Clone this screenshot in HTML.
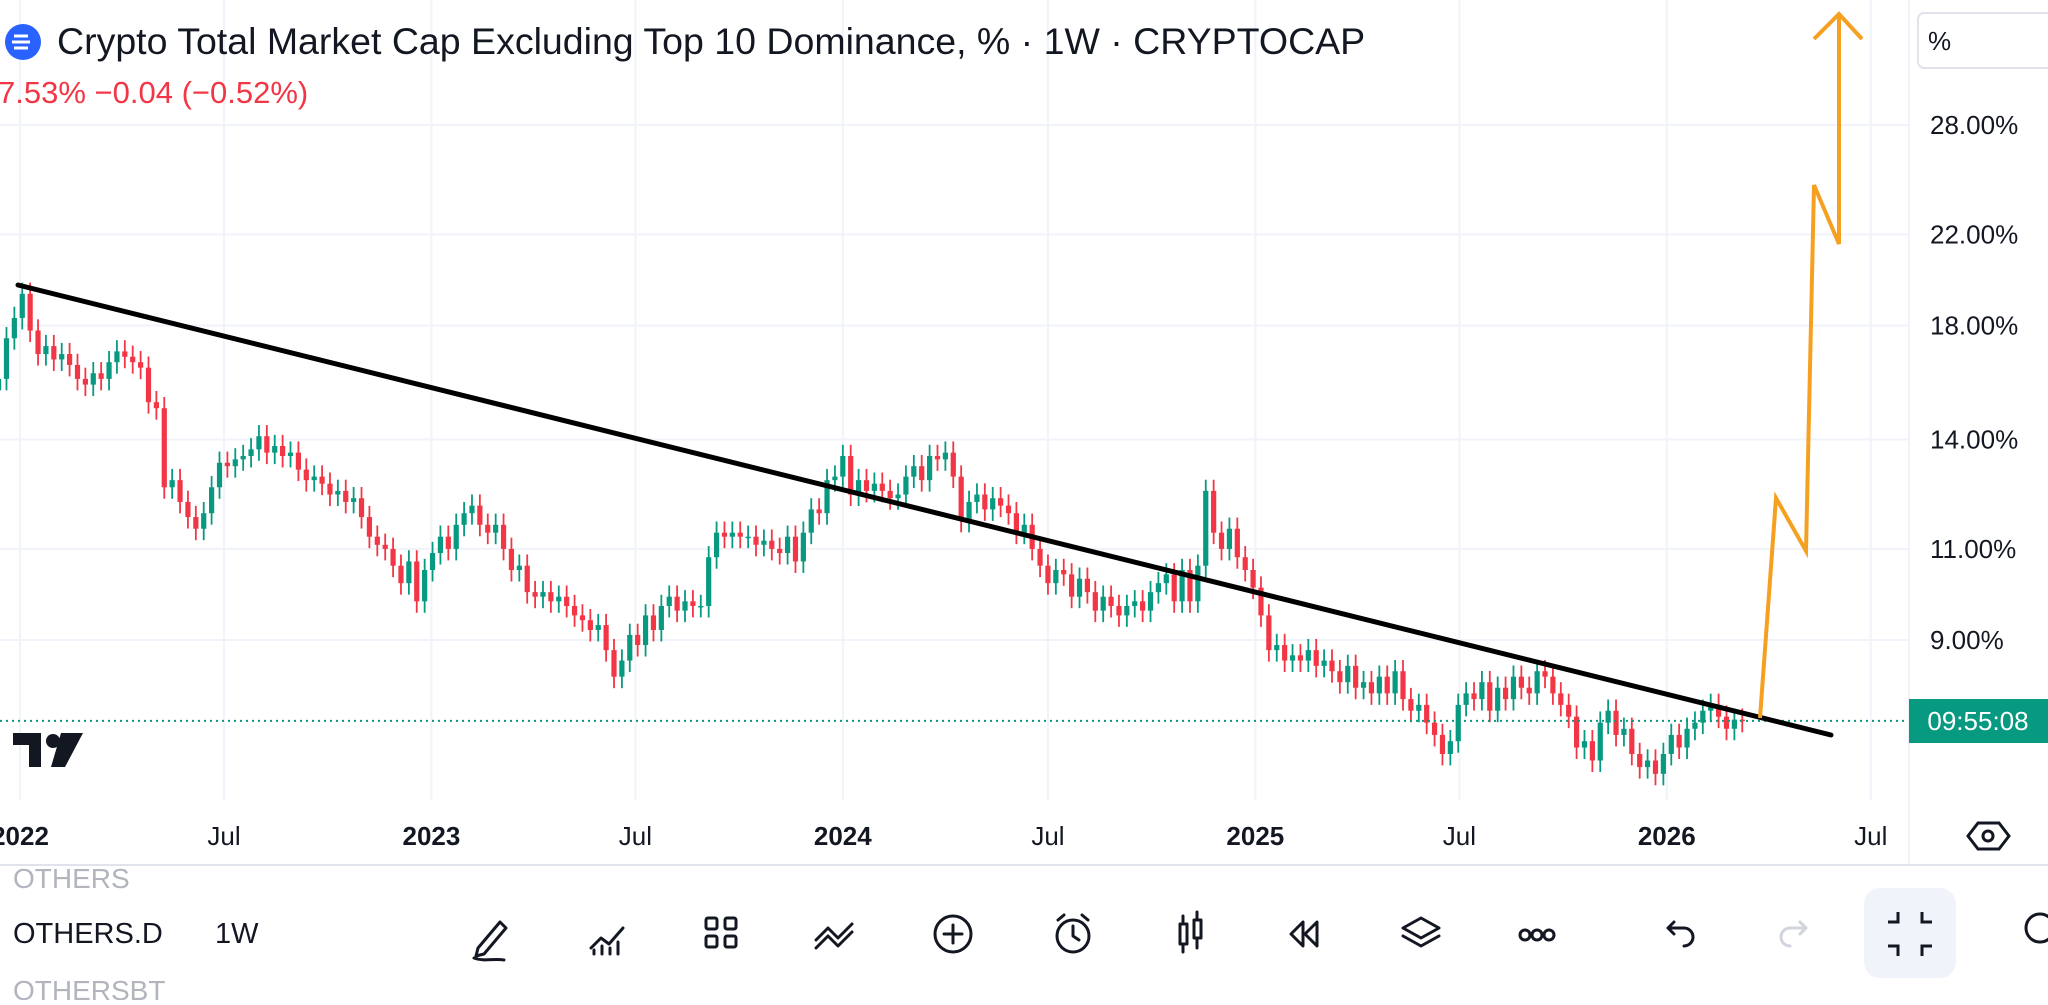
<!DOCTYPE html>
<html><head><meta charset="utf-8"><style>
html,body{margin:0;padding:0;background:#fff;}
body{width:2048px;height:1000px;overflow:hidden;font-family:"Liberation Sans",sans-serif;}
svg text{font-family:"Liberation Sans",sans-serif;}
</style></head><body>
<svg id="chart" width="2048" height="1000" viewBox="0 0 2048 1000" xmlns="http://www.w3.org/2000/svg">
<g id="grid"></g>
<g id="candles"></g>
<line id="curline" x1="0" x2="1909" stroke="#089981" stroke-width="2" stroke-dasharray="2,4"/>
<line x1="18" y1="285" x2="1831" y2="735" stroke="#000" stroke-width="5" stroke-linecap="round"/>
<polyline points="1760,718 1776,498 1806,551 1814,185 1839,244 1839,16" fill="none" stroke="#f5a020" stroke-width="4" stroke-linejoin="miter"/>
<polyline points="1814,39 1839,14 1862,39" fill="none" stroke="#f5a020" stroke-width="4"/>
<line x1="1909" y1="0" x2="1909" y2="865" stroke="#f0f3fa" stroke-width="2"/>
<g id="yaxis"></g>
<g id="xaxis"></g>
<rect x="1909" y="699" width="139" height="44" fill="#089981"/>
<text x="1978" y="730" fill="#fff" font-size="26" text-anchor="middle">09:55:08</text>
<rect x="1918" y="13" width="140" height="55" rx="6" fill="#fff" stroke="#e0e3eb" stroke-width="2"/>
<text x="1928" y="50" font-size="26" fill="#131722">%</text>
<circle cx="23" cy="42" r="18" fill="#2962ff"/>
<path d="M14 36h14M12 42h18M14 48h14" stroke="#fff" stroke-width="3" fill="none"/>
<text x="57" y="54" font-size="37.5" fill="#131722">Crypto Total Market Cap Excluding Top 10 Dominance, % · 1W · CRYPTOCAP</text>
<text x="-2" y="103" font-size="31" fill="#f23645">7.53%  −0.04 (−0.52%)</text>
<g><path d="M13 733h28v34h-12v-22h-16z" fill="#131722"/><circle cx="53" cy="741" r="7" fill="#131722"/><path d="M61 733h22l-18 34h-14z" fill="#131722"/></g>
<g><polygon points="1978,823 1999,823 2009,836 1999,849 1978,849 1968,836" fill="none" stroke="#131722" stroke-width="3"/><circle cx="1988" cy="836" r="5" fill="none" stroke="#131722" stroke-width="3"/></g>
<line x1="0" y1="865" x2="2048" y2="865" stroke="#e0e3eb" stroke-width="2"/>
<text x="13" y="888" font-size="28" fill="#b2b5be">OTHERS</text>
<text x="13" y="943" font-size="29" fill="#131722">OTHERS.D</text>
<text x="215" y="943" font-size="29" fill="#131722">1W</text>
<text x="13" y="1000" font-size="28" fill="#b2b5be">OTHERSBT</text>
<g fill="none" stroke="#131722" stroke-width="3" stroke-linecap="round" stroke-linejoin="round">
<g><path d="M478 948l22-26 6 6-22 26-8 2zM474 958c10 4 20 0 30 2"/></g>
<g><path d="M591 948l10-10 8 6 14-16M594 954v-4M602 954v-8M610 954v-6M618 954v-12"/></g>
<g><rect x="706" y="918" width="11" height="11" rx="2"/><rect x="725" y="918" width="11" height="11" rx="2"/><rect x="706" y="936" width="11" height="11" rx="2"/><rect x="725" y="936" width="11" height="11" rx="2"/></g>
<g><path d="M816 940l12-12 10 10 14-14M816 948l12-12 10 10 14-14"/></g>
<g><circle cx="953" cy="934" r="18"/><path d="M944 934h18M953 925v18"/></g>
<g><circle cx="1073" cy="936" r="16"/><path d="M1073 926v10l6 4M1058 920l6-5M1088 920l-6-5"/></g>
<g><rect x="1180" y="924" width="7" height="20"/><rect x="1194" y="920" width="7" height="18"/><path d="M1183 916v8M1183 944v8M1197 912v8M1197 938v10"/></g>
<g><path d="M1303 922l-12 12 12 12zM1317 922l-12 12 12 12z"/></g>
<g><path d="M1421 918l18 10-18 10-18-10zM1403 936l18 10 18-10"/></g>
<g><circle cx="1525" cy="935" r="5"/><circle cx="1537" cy="935" r="5"/><circle cx="1549" cy="935" r="5"/></g>
<g><path d="M1668 928h16a9 9 0 0 1 0 18M1674 922l-6 6 6 6"/></g>
<g stroke="#d1d4dc"><path d="M1806 928h-16a9 9 0 0 0 0 18M1800 922l6 6-6 6"/></g>
</g>
<rect x="1864" y="888" width="92" height="90" rx="16" fill="#f0f3fa"/>
<g fill="none" stroke="#131722" stroke-width="3"><path d="M1898 912v10h-10M1922 912v10h10M1898 956v-10h-10M1922 956v-10h10"/></g>
<g fill="none" stroke="#131722" stroke-width="3"><circle cx="2040" cy="928" r="14"/></g>
</svg>
<script>
const yTicks=[28,22,18,14,11,9];
const yTickLabels=["28.00%","22.00%","18.00%","14.00%","11.00%","9.00%"];
const xTickDates=["2022-01-01","2022-07-01","2023-01-01","2023-07-01","2024-01-01","2024-07-01","2025-01-01","2025-07-01","2026-01-01","2026-07-01"];
const xTickLabels=["2022","Jul","2023","Jul","2024","Jul","2025","Jul","2026","Jul"];
const startDate="2021-12-13";
const closes=[16.0,17.5,18.3,
19.3,17.8,16.9,17.2,16.7, 16.9,16.5,16.0,15.8, 16.2,16.0,16.6,17.0, 16.8,16.6,16.4,15.2, 15.0,12.6,12.8,12.2,11.8, 11.5,11.9,12.6,13.3, 13.2,13.4,13.5,13.7, 14.1,13.6,13.8,13.5,13.6, 13.1,12.8,12.9,12.7, 12.4,12.5,12.2,12.3,11.8, 11.3,11.1,11.0,10.6, 10.2,10.7,9.8,10.5,
10.9,11.3,11.0,11.6,11.9, 12.1,11.6,11.4,11.6, 11.0,10.5,10.6,10.0, 9.9,10.0,9.8,9.9, 9.7,9.5,9.4,9.2,9.3, 8.8,8.3,8.6,9.1, 8.9,9.5,9.2,9.7,9.9, 9.6,9.8,9.7,9.7, 10.8,11.4,11.3,11.4, 11.3,11.3,11.1,11.2,11.0, 10.9,11.3,10.7,11.4, 12.0,11.9,12.8,12.9,
13.5,12.4,12.8,12.5,12.7, 12.5,12.3,12.4,12.9, 13.2,12.8,13.5,13.4, 13.6,12.9,11.7,12.2,12.4, 12.0,12.3,12.1,11.9, 11.4,11.6,11.0,10.6, 10.2,10.5,10.4,9.9,10.3, 10.0,9.6,9.9,9.7, 9.5,9.7,9.8,9.6,10.0, 10.2,10.4,9.8,10.5, 9.8,10.6,12.5,11.4, 11.0,11.5,10.8,10.5,10.1,
9.5,8.8,8.9,8.6, 8.7,8.6,8.8,8.5, 8.6,8.4,8.2,8.5,8.1, 8.2,8.0,8.3,8.0, 8.4,7.9,7.7,7.8, 7.5,7.3,7.0,7.2,7.8, 8.0,7.9,8.2,7.7, 8.1,7.9,8.3,8.1, 8.0,8.4,8.3,8.0,7.8, 7.6,7.1,7.2,6.9, 7.5,7.7,7.3,7.4, 7.0,6.8,6.9,6.7,7.0,
7.3,7.1,7.4,7.5, 7.7,7.8,7.6,7.4, 7.55,7.53];
const firstOpen=15.6;
const NS='http://www.w3.org/2000/svg';
const WEEK=7*864e5, PXW=7.89, X0=20, D0=Date.parse("2022-01-01");
function xOfDate(ms){return X0+(ms-D0)/WEEK*PXW;}
function yOf(v){return 125+(Math.log(28)-Math.log(v))*453.7;}
function mk(tag,attrs,parent){const e=document.createElementNS(NS,tag);for(const k in attrs)e.setAttribute(k,attrs[k]);parent.appendChild(e);return e;}
const grid=document.getElementById('grid'),ya=document.getElementById('yaxis'),xa=document.getElementById('xaxis'),cg=document.getElementById('candles');
yTicks.forEach((v,i)=>{const y=yOf(v);
 const l=mk('line',{x1:0,x2:1909,y1:y,y2:y,stroke:'#f0f3fa','stroke-width':2},grid);
 
 
 const t=mk('text',{x:1930,y:y+9,'font-size':26,fill:'#131722'},ya);t.textContent=yTickLabels[i];
 
 
});
xTickDates.forEach((d,i)=>{const x=xOfDate(Date.parse(d));
 const l=mk('line',{x1:x,x2:x,y1:0,y2:800,stroke:'#f0f3fa','stroke-width':2},grid);
 
 
 const t=mk('text',{x:x,y:845,'font-size':26,fill:'#131722','text-anchor':'middle','font-weight':/^\d/.test(xTickLabels[i])?'bold':'normal'},xa);t.textContent=xTickLabels[i];
 
 
});
const cl=document.getElementById('curline');const cy=yOf(closes[closes.length-1]);cl.setAttribute('y1',cy);cl.setAttribute('y2',cy);
const s0=Date.parse(startDate);
closes.forEach((c,i)=>{const o=i?closes[i-1]:firstOpen;const up=c>=o;const col=up?'#089981':'#f23645';
 const x=xOfDate(s0+i*WEEK);const hi=Math.max(o,c)*1.025,lo=Math.min(o,c)*0.975;
 const g=mk('g',{},cg);
 
 
 mk('line',{x1:x,x2:x,y1:yOf(hi),y2:yOf(lo),stroke:col,'stroke-width':1.8},g);
 const yt=yOf(Math.max(o,c)),yb=yOf(Math.min(o,c));
 mk('rect',{x:x-2.6,y:yt,width:5.2,height:Math.max(1.5,yb-yt),fill:col},g);
});
</script>
</body></html>
